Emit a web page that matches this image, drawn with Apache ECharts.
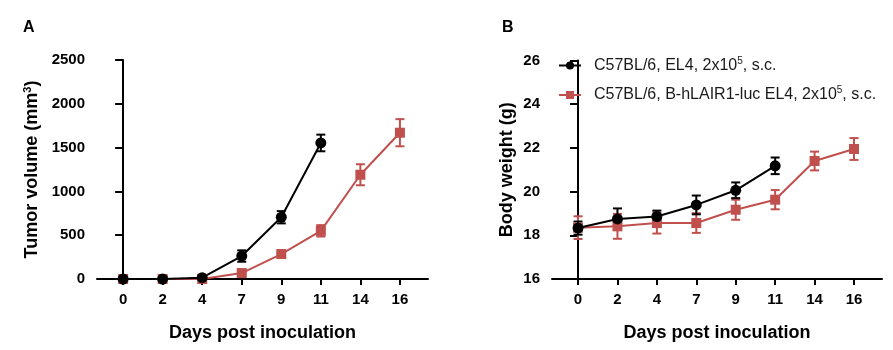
<!DOCTYPE html>
<html>
<head>
<meta charset="utf-8">
<script src="https://cdn.jsdelivr.net/npm/echarts@6/dist/echarts.min.js"></script>
<style>
  html, body { margin: 0; padding: 0; background: #fff; }
  #main { width: 893px; height: 350px; }
</style>
</head>
<body>
<div id="main"></div>
<script>
var days = ['0', '2', '4', '7', '9', '11', '14', '16'];

// panel A: tumor volume (mm3), mean and SEM
var tumorEL4 = [0, 0, 15, 262, 705, 1553];
var tumorEL4Err = [15, 15, 10, 65, 70, 95];
var tumorLAIR = [0, 0, 0, 68, 285, 550, 1190, 1670];
var tumorLAIRErr = [0, 0, 0, 15, 20, 65, 120, 155];

// panel B: body weight (g), mean and SEM
var weightEL4 = [18.33, 18.75, 18.86, 19.39, 20.06, 21.18];
var weightEL4Err = [0.3, 0.48, 0.27, 0.43, 0.36, 0.38];
var weightLAIR = [18.35, 18.41, 18.56, 18.56, 19.17, 19.63, 21.4, 21.95];
var weightLAIRErr = [0.52, 0.57, 0.48, 0.45, 0.46, 0.44, 0.43, 0.5];

var black = '#000000';
var red = '#c0504d';
var font = 'Liberation Sans';

function points(vals) {
    return vals.map(function (v, i) { return [i, v]; });
}
function bars(vals, errs) {
    return vals.map(function (v, i) { return [i, v - errs[i], v + errs[i]]; });
}

function errorSeries(data, color, gi) {
    return {
        type: 'custom',
        xAxisIndex: gi,
        yAxisIndex: gi,
        z: 3,
        silent: true,
        data: data,
        renderItem: function (params, api) {
            var lo = api.coord([api.value(0), api.value(1)]);
            var hi = api.coord([api.value(0), api.value(2)]);
            var w = 4.5;
            var st = { stroke: color, lineWidth: 2 };
            return {
                type: 'group',
                children: [
                    { type: 'line', shape: { x1: lo[0], y1: lo[1], x2: hi[0], y2: hi[1] }, style: st },
                    { type: 'line', shape: { x1: lo[0] - w, y1: lo[1], x2: lo[0] + w, y2: lo[1] }, style: st },
                    { type: 'line', shape: { x1: hi[0] - w, y1: hi[1], x2: hi[0] + w, y2: hi[1] }, style: st }
                ]
            };
        }
    };
}

function xAxis(gi) {
    return {
        type: 'value',
        gridIndex: gi,
        min: -0.66,
        max: 7.71,
        name: 'Days post inoculation',
        nameLocation: 'middle',
        nameGap: 45,
        nameTextStyle: { fontFamily: font, fontWeight: 'bold', fontSize: 18, color: black },
        axisLine: { lineStyle: { color: black, width: 2 } },
        axisTick: { show: true, length: 6, lineStyle: { color: black, width: 2 }, customValues: [0, 1, 2, 3, 4, 5, 6, 7] },
        axisLabel: {
            customValues: [0, 1, 2, 3, 4, 5, 6, 7],
            formatter: function (v) { return days[Math.round(v)]; },
            margin: 13,
            fontFamily: font, fontWeight: 'bold', fontSize: 15, color: black
        },
        splitLine: { show: false }
    };
}

function yAxis(gi, min, max, interval, name, gap) {
    return {
        type: 'value',
        gridIndex: gi,
        min: min,
        max: max,
        interval: interval,
        name: name,
        nameLocation: 'middle',
        nameGap: gap,
        nameTextStyle: {
            fontFamily: font, fontWeight: 'bold', fontSize: 18, color: black,
            rich: {
                a: { fontFamily: font, fontWeight: 'bold', fontSize: 18, color: black },
                s: { fontFamily: font, fontWeight: 'bold', fontSize: 11, color: black, verticalAlign: 'top', padding: [0, 0, 9, 0] }
            }
        },
        axisLine: { show: true, lineStyle: { color: black, width: 2 } },
        axisTick: { show: true, length: 8, lineStyle: { color: black, width: 2 } },
        axisLabel: {
            margin: 12, fontFamily: font, fontWeight: 'bold', fontSize: 15, color: black,
            formatter: function (v) { return String(v); }
        },
        splitLine: { show: false }
    };
}

function lineSeries(name, vals, color, symbol, size, gi) {
    return {
        name: name,
        type: 'line',
        xAxisIndex: gi,
        yAxisIndex: gi,
        data: points(vals),
        symbol: symbol,
        symbolSize: size,
        z: 4,
        lineStyle: { color: color, width: 2 },
        itemStyle: { color: color },
        animation: false
    };
}

var nameEL4 = 'C57BL/6, EL4, 2x10^5, s.c.';
var nameLAIR = 'C57BL/6, B-hLAIR1-luc EL4, 2x10^5, s.c.';

var myChart = echarts.init(document.getElementById('main'));
myChart.setOption({
    animation: false,
    title: [
        { text: 'A', left: 23, top: 20, padding: 0, textStyle: { fontFamily: font, fontWeight: 'bold', fontSize: 16, color: black } },
        { text: 'B', left: 502, top: 20, padding: 0, textStyle: { fontFamily: font, fontWeight: 'bold', fontSize: 16, color: black } }
    ],
    legend: {
        orient: 'vertical',
        left: 558,
        top: 56,
        padding: 0,
        itemWidth: 22,
        itemHeight: 10,
        itemGap: 12,
        data: [nameEL4, nameLAIR],
        formatter: function (n) {
            var parts = n.split('^5');
            return '{f|' + parts[0] + '}{s|5}{a|' + parts[1] + '}';
        },
        textStyle: {
            rich: {
                f: { fontFamily: font, fontSize: 16, color: '#1a1a1a', padding: [0, 0, 0, 8] },
                a: { fontFamily: font, fontSize: 16, color: '#1a1a1a' },
                s: { fontFamily: font, fontSize: 10, color: '#1a1a1a', verticalAlign: 'top', padding: [0, 0, 9, 0] }
            }
        }
    },
    grid: [
        { left: 97, right: 465, top: 60, bottom: 71 },
        { left: 552, right: 11, top: 60.5, bottom: 71 }
    ],
    xAxis: [xAxis(0), xAxis(1)],
    yAxis: [
        yAxis(0, 0, 2500, 500, '{a|Tumor volume (mm}{s|3}{a|)}', 55),
        yAxis(1, 16, 26, 2, 'Body weight (g)', 36)
    ],
    series: [
        errorSeries(bars(tumorLAIR, tumorLAIRErr), red, 0),
        lineSeries(nameLAIR, tumorLAIR, red, 'rect', 10, 0),
        errorSeries(bars(tumorEL4, tumorEL4Err), black, 0),
        lineSeries(nameEL4, tumorEL4, black, 'circle', 11, 0),
        errorSeries(bars(weightLAIR, weightLAIRErr), red, 1),
        lineSeries(nameLAIR, weightLAIR, red, 'rect', 10, 1),
        errorSeries(bars(weightEL4, weightEL4Err), black, 1),
        lineSeries(nameEL4, weightEL4, black, 'circle', 11, 1)
    ]
});
</script>
</body>
</html>
